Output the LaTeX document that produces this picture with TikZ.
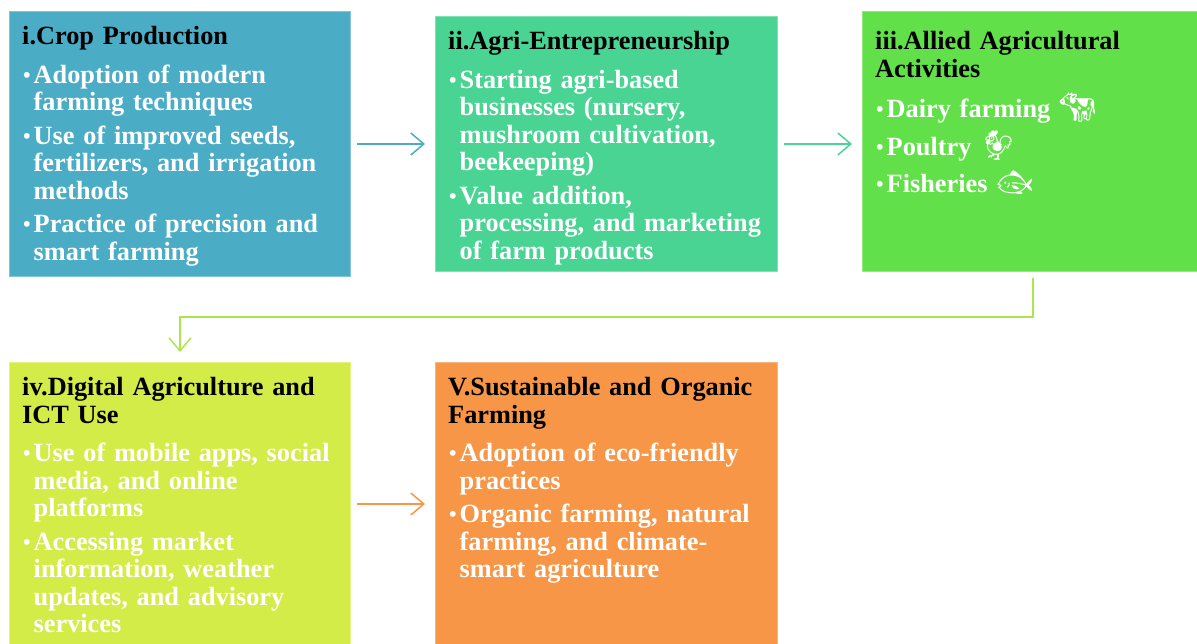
\documentclass[tikz,border=0pt]{standalone}
\usepackage{fontspec}
\setmainfont{Liberation Serif}
\newfontfamily\emofont{Noto Emoji}
\usetikzlibrary{arrows.meta}
\definecolor{cropblue}{RGB}{75,172,198}
\definecolor{agrigreen}{RGB}{74,212,148}
\definecolor{alliedgreen}{RGB}{98,224,74}
\definecolor{digiyellow}{RGB}{212,236,72}
\definecolor{organicorange}{RGB}{247,150,70}
\definecolor{linklime}{RGB}{172,230,78}
\newcommand{\bl}{\makebox[11.5pt][l]{\hspace{1pt}\raisebox{1pt}{\fontsize{21.5}{21.5}\selectfont •}}}
\newcommand{\ind}{\hspace*{11.5pt}}
\newcommand{\icon}[1]{\smash{{\emofont\fontsize{29}{29}\selectfont #1}}}

\begin{document}
\begin{tikzpicture}[x=1pt,y=1pt,
    box/.style={rectangle, inner sep=0pt, anchor=north west, line width=1pt},
    boxtext/.style={anchor=base west, inner sep=0pt, align=left, text width=330pt,
        font=\bfseries\fontsize{26.3}{27.5}\selectfont},
    flow/.style={-{Straight Barb[length=13pt,width=22pt]}, line width=1.5pt,
        shorten <=6pt, shorten >=10pt}]
    \useasboundingbox (0,0) rectangle (1197,644);

    % Draw the five boxes
    \node[box, fill=cropblue, draw=cropblue!70!white, minimum width=341pt, minimum height=265pt] (crop) at (9,633) {};
    \node[box, fill=agrigreen, draw=agrigreen!70!white, minimum width=342pt, minimum height=255pt] (agri) at (435,628) {};
    \node[box, fill=alliedgreen, draw=alliedgreen!70!white, minimum width=335pt, minimum height=260pt] (allied) at (862,633) {};
    \node[box, fill=digiyellow, draw=digiyellow!70!white, minimum width=341pt, minimum height=283pt] (digital) at (9,282) {};
    \node[box, fill=organicorange, draw=organicorange!70!white, minimum width=342pt, minimum height=283pt] (organic) at (435,282) {};

    % Texts inside the boxes
    \node[boxtext] (croptxt) at ([shift={(13,-34)}]crop.north west) {i.Crop Production\\[11pt]
        \leavevmode\color{white}\bl Adoption of modern\\ \ind farming techniques\\[6pt]
        \bl Use of improved seeds,\\ \ind fertilizers, and irrigation\\ \ind methods\\[6pt]
        \bl Practice of precision and\\ \ind smart farming};
    \node[boxtext] (agritxt) at ([shift={(13,-34)}]agri.north west) {ii.Agri-Entrepreneurship\\[11pt]
        \leavevmode\color{white}\bl Starting agri-based\\ \ind businesses (nursery,\\ \ind mushroom cultivation,\\ \ind beekeeping)\\[6pt]
        \bl Value addition,\\ \ind processing, and marketing\\ \ind of farm products};
    \node[boxtext] (alliedtxt) at ([shift={(13,-39)}]allied.north west) {iii.Allied Agricultural\\ Activities\\[12.5pt]
        \leavevmode\color{white}\bl Dairy farming \icon{🐄}\\[10.5pt]
        \bl Poultry \icon{🐓}\\[9.5pt]
        \bl Fisheries \icon{🐟}};
    \node[boxtext] (digitaltxt) at ([shift={(13,-34)}]digital.north west) {iv.Digital Agriculture and\\ ICT Use\\[11pt]
        \leavevmode\color{white}\bl Use of mobile apps, social\\ \ind media, and online\\ \ind platforms\\[6pt]
        \bl Accessing market\\ \ind information, weather\\ \ind updates, and advisory\\ \ind services};
    \node[boxtext] (organictxt) at ([shift={(13,-34)}]organic.north west) {V.Sustainable and Organic\\ Farming\\[11pt]
        \leavevmode\color{white}\bl Adoption of eco-friendly\\ \ind practices\\[6pt]
        \bl Organic farming, natural\\ \ind farming, and climate-\\ \ind smart agriculture};

    % Arrows between the boxes
    \draw[flow, cropblue] (crop.east) -- (agri.west);
    \draw[flow, agrigreen] (agri.east) -- (agri.east -| allied.west);
    \draw[flow, linklime] ([xshift=3pt]allied.south) -- ++(0,-45) -| (digital.north);
    \draw[flow, organicorange] (digital.east) -- (organic.west);
\end{tikzpicture}
\end{document}
